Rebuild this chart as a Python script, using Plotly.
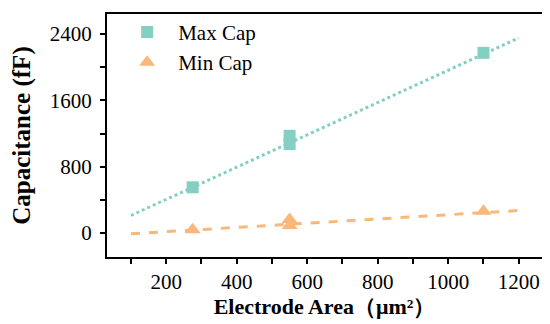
import plotly.graph_objects as go

# Data
area_max = [275, 550, 550, 1100]
cap_max = [552, 1172, 1073, 2172]
area_min = [275, 550, 550, 1100]
cap_min = [40, 165, 92, 262]
fit_x = [100, 1200]
fit_max = [212, 2352]
fit_min = [-8, 272]

x_ticks = [200, 400, 600, 800, 1000, 1200]
y_ticks = [0, 800, 1600, 2400]

teal = "#84CFC3"
orange = "#F9B87A"
font = "'Liberation Serif', 'Times New Roman', serif"

fig = go.Figure()
fig.add_trace(go.Scatter(x=fit_x, y=fit_max, mode="lines",
                         line=dict(color=teal, width=3, dash="dot"), showlegend=False))
fig.add_trace(go.Scatter(x=fit_x, y=fit_min, mode="lines",
                         line=dict(color=orange, width=3, dash="dash"), showlegend=False))
fig.add_trace(go.Scatter(x=area_max, y=cap_max, mode="markers", name="Max Cap",
                         marker=dict(symbol="square", size=12, color=teal)))
fig.add_trace(go.Scatter(x=area_min, y=cap_min, mode="markers", name="Min Cap",
                         marker=dict(symbol="triangle-up", size=14, color=orange)))

axis_common = dict(showgrid=False, zeroline=False, showline=True, linecolor="black",
                   linewidth=2, mirror=True, ticks="outside", ticklen=5, tickwidth=1.5,
                   tickcolor="black", automargin=False,
                   tickfont=dict(family=font, size=21, color="black"))

fig.update_layout(
    width=550, height=324,
    margin=dict(l=99, r=16, t=5, b=75),
    plot_bgcolor="white", paper_bgcolor="white",
    xaxis=dict(range=[32, 1266], tickvals=x_ticks,
               minor=dict(ticks="outside", ticklen=5, tickwidth=1.5, tickcolor="black",
                          tickvals=[100, 300, 500, 700, 900, 1100]),
               title=dict(text="<b>Electrode Area（μm²）</b>", font=dict(family=font, size=22, color="black"),
                          standoff=4),
               **axis_common),
    yaxis=dict(range=[-288, 2640], tickvals=y_ticks, ticklabelstandoff=4,
               minor=dict(ticks="outside", ticklen=5, tickwidth=1.5, tickcolor="black",
                          tickvals=[400, 1200, 2000]),
               title=dict(text="<b>Capacitance (fF)</b>", font=dict(family=font, size=25, color="black"),
                          standoff=14),
               **axis_common),
    legend=dict(x=0.021, y=1.005, xanchor="left", yanchor="top", bgcolor="rgba(0,0,0,0)",
                font=dict(family=font, size=21, color="black"), itemsizing="trace",
                itemwidth=52, tracegroupgap=0),
)

fig.write_html("out.html")
